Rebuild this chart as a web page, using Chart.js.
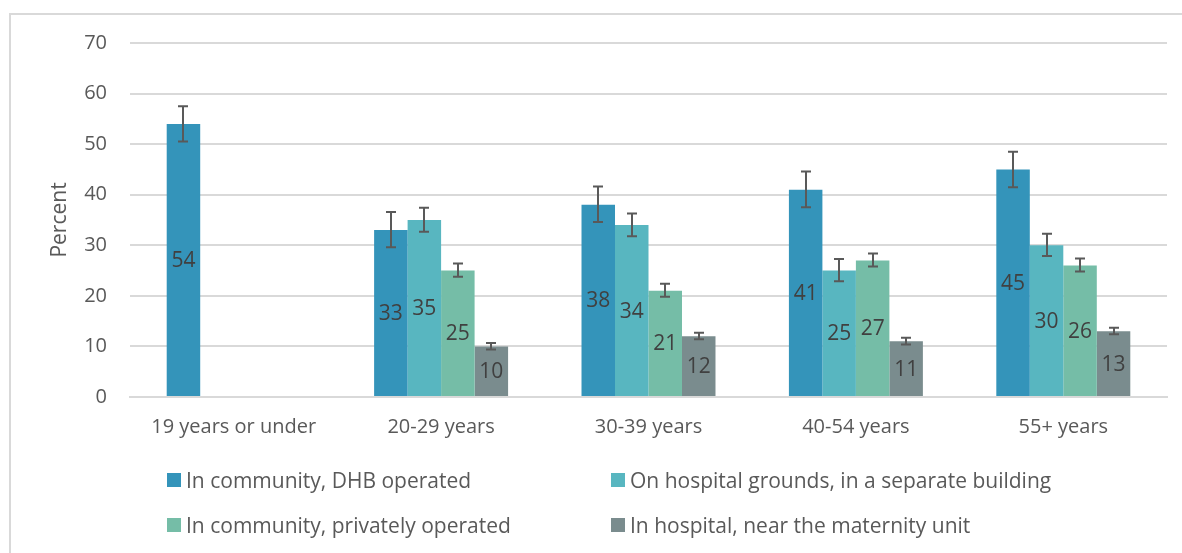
<!DOCTYPE html>
<html>
<head>
<meta charset="utf-8">
<script src="https://cdn.jsdelivr.net/npm/chart.js@4.4.1/dist/chart.umd.min.js"></script>
<style>
  html, body { margin: 0; padding: 0; background: #fff; }
  #wrap { position: relative; width: 1182px; height: 553px; overflow: hidden; font-family: "Open Sans", sans-serif; }
  #frame { position: absolute; left: 9px; top: 13px; width: 1300px; height: 700px; border-top: 2px solid #d9d9d9; border-left: 2px solid #d9d9d9; box-sizing: border-box; }
  #c { position: absolute; left: 0; top: 0; }
  .leg { position: absolute; display: flex; align-items: center; font-size: 21px; color: #595959; white-space: nowrap; line-height: 1; }
  .leg span.box { display: inline-block; width: 14px; height: 14px; margin-right: 5px; }
</style>
</head>
<body>
<div id="wrap">
  <div id="frame"></div>
  <canvas id="c" width="1182" height="553"></canvas>
  <div id="legend"></div>
</div>
<script>
const categories = ["19 years or under", "20-29 years", "30-39 years", "40-54 years", "55+ years"];
const seriesNames = [
  "In community, DHB operated",
  "On hospital grounds, in a separate building",
  "In community, privately operated",
  "In hospital, near the maternity unit"
];
const colors = ["#3494BA", "#58B6C0", "#75BDA7", "#7A8C8E"];

const communityDHB = [54, 33, 38, 41, 45];
const hospitalGrounds = [null, 35, 34, 25, 30];
const communityPrivate = [null, 25, 21, 27, 26];
const hospitalMaternity = [null, 10, 12, 11, 13];

const communityDHBLow = [50.5, 29.6, 34.6, 37.5, 41.5];
const communityDHBHigh = [57.5, 36.6, 41.6, 44.6, 48.5];
const hospitalGroundsLow = [null, 32.7, 31.8, 22.9, 27.9];
const hospitalGroundsHigh = [null, 37.4, 36.3, 27.3, 32.3];
const communityPrivateLow = [null, 23.8, 19.8, 25.8, 24.8];
const communityPrivateHigh = [null, 26.4, 22.4, 28.4, 27.4];
const hospitalMaternityLow = [null, 9.4, 11.4, 10.4, 12.4];
const hospitalMaternityHigh = [null, 10.7, 12.7, 11.7, 13.7];

const yTicks = [0, 10, 20, 30, 40, 50, 60, 70];

const seriesValues = [communityDHB, hospitalGrounds, communityPrivate, hospitalMaternity];
const seriesLow = [communityDHBLow, hospitalGroundsLow, communityPrivateLow, hospitalMaternityLow];
const seriesHigh = [communityDHBHigh, hospitalGroundsHigh, communityPrivateHigh, hospitalMaternityHigh];

const FONT = "'Open Sans', sans-serif";
const FS = 20;

const errorBarPlugin = {
  id: 'errorBars',
  afterDatasetsDraw(chart) {
    const ctx = chart.ctx;
    const y = chart.scales.y;
    ctx.save();
    ctx.strokeStyle = '#595959';
    ctx.lineWidth = 2;
    chart.data.datasets.forEach((ds, di) => {
      const meta = chart.getDatasetMeta(di);
      meta.data.forEach((el, i) => {
        const lo = seriesLow[di][i], hi = seriesHigh[di][i];
        if (lo == null || hi == null || ds.data[i] == null) return;
        const x = Math.round(el.x);
        const y1 = y.getPixelForValue(hi), y2 = y.getPixelForValue(lo);
        ctx.beginPath();
        ctx.moveTo(x, y1); ctx.lineTo(x, y2);
        ctx.moveTo(x - 5, y1); ctx.lineTo(x + 5, y1);
        ctx.moveTo(x - 5, y2); ctx.lineTo(x + 5, y2);
        ctx.stroke();
      });
    });
    ctx.restore();
  }
};

const labelPlugin = {
  id: 'barLabels',
  afterDatasetsDraw(chart) {
    const ctx = chart.ctx;
    ctx.save();
    ctx.fillStyle = '#404040';
    ctx.font = "21px " + FONT;
    ctx.textAlign = 'center';
    ctx.textBaseline = 'middle';
    chart.data.datasets.forEach((ds, di) => {
      const meta = chart.getDatasetMeta(di);
      meta.data.forEach((el, i) => {
        const v = ds.data[i];
        if (v == null) return;
        ctx.fillText(String(v), el.x, (el.y + el.base) / 2 + 1);
      });
    });
    ctx.restore();
  }
};

new Chart(document.getElementById('c'), {
  type: 'bar',
  data: {
    labels: categories,
    datasets: seriesValues.map((vals, i) => ({
      label: seriesNames[i],
      data: vals,
      backgroundColor: colors[i],
      borderWidth: 0,
      categoryPercentage: 0.646,
      barPercentage: 1.0
    }))
  },
  options: {
    responsive: false,
    animation: false,
    devicePixelRatio: 1,
    layout: { padding: { left: 0, right: 15, top: 43, bottom: 0 } },
    plugins: {
      legend: { display: false },
      tooltip: { enabled: false }
    },
    scales: {
      x: {
        grid: { display: false, drawTicks: false },
        border: { display: true, color: '#d9d9d9', width: 2 },
        ticks: { color: '#595959', font: { family: FONT, size: FS }, padding: 18, maxRotation: 0, autoSkip: false },
        afterFit(scale) { scale.height = 156; }
      },
      y: {
        min: 0, max: 70,
        afterBuildTicks(scale) { scale.ticks = yTicks.map(v => ({ value: v })); },
        grid: { color: '#d9d9d9', lineWidth: 2, drawTicks: false },
        border: { display: false },
        ticks: { color: '#595959', font: { family: FONT, size: FS }, padding: 23 },
        title: { display: true, text: 'Percent', color: '#595959', font: { family: FONT, size: 21 }, padding: { top: 47, bottom: 0 } },
        afterFit(scale) { scale.width = 130; }
      }
    }
  },
  plugins: [errorBarPlugin, labelPlugin]
});

const legendPos = [
  { x: 167, y: 480 },
  { x: 611, y: 480 },
  { x: 167, y: 525 },
  { x: 611, y: 525 }
];
const legendEl = document.getElementById('legend');
seriesNames.forEach((name, i) => {
  const d = document.createElement('div');
  d.className = 'leg';
  d.style.left = legendPos[i].x + 'px';
  d.style.top = (legendPos[i].y - 10) + 'px';
  d.style.height = '20px';
  const b = document.createElement('span');
  b.className = 'box';
  b.style.background = colors[i];
  const t = document.createElement('span');
  t.textContent = name;
  d.appendChild(b); d.appendChild(t);
  legendEl.appendChild(d);
});
</script>
</body>
</html>
